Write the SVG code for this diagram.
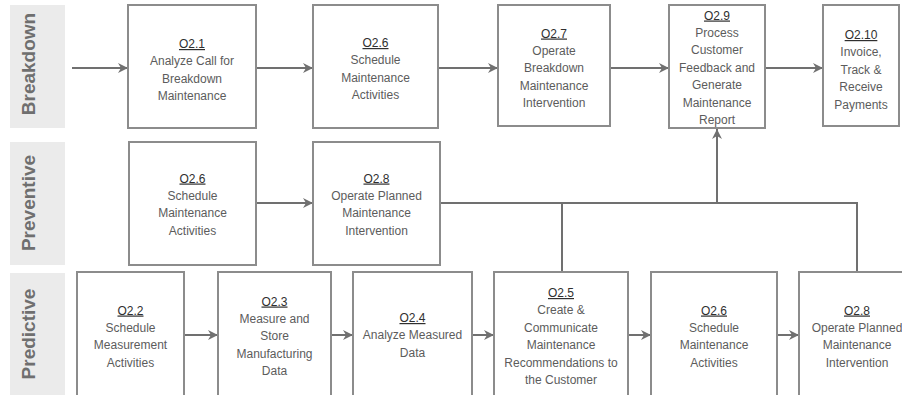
<svg xmlns="http://www.w3.org/2000/svg" width="902" height="395" viewBox="0 0 902 395">
  <style>
    .lane { fill: #ebebeb; }
    .lane-text { font-family: "Liberation Sans", Arial, sans-serif; font-size: 19px; font-weight: bold; fill: #6f6f6f; text-anchor: middle; }
    .box { fill: #ffffff; stroke: #8c8c8c; stroke-width: 2; }
    .t { font-family: "Liberation Sans", Arial, sans-serif; font-size: 12px; fill: #5c5c5c; text-anchor: middle; }
    .id { fill: #2f2f2f; text-decoration: underline; }
    .wire { fill: none; stroke: #707070; stroke-width: 2; }
    .arrow { fill: none; stroke: #707070; stroke-width: 2; marker-end: url(#head); }
  </style>
  <defs>
    <marker id="head" markerUnits="userSpaceOnUse" markerWidth="11" markerHeight="10" refX="10" refY="5" orient="auto">
      <path d="M0,0 L10,5 L0,10 L3,5 z" fill="#707070"/>
    </marker>
  </defs>

  <rect width="902" height="395" fill="#ffffff"/>

  <!-- swimlane labels -->
  <g id="lane-breakdown">
    <rect class="lane" x="10" y="5" width="55" height="123"/>
    <text class="lane-text" transform="translate(35,64) rotate(-90)">Breakdown</text>
  </g>
  <g id="lane-preventive">
    <rect class="lane" x="10" y="142" width="55" height="123"/>
    <text class="lane-text" transform="translate(35,203) rotate(-90)">Preventive</text>
  </g>
  <g id="lane-predictive">
    <rect class="lane" x="10" y="273" width="55" height="130"/>
    <text class="lane-text" transform="translate(35,334) rotate(-90)">Predictive</text>
  </g>

  <!-- connectors -->
  <g id="connectors">
    <line class="arrow" x1="72" y1="68" x2="128" y2="68"/>
    <line class="arrow" x1="256" y1="68" x2="313" y2="68"/>
    <line class="arrow" x1="438" y1="68" x2="498" y2="68"/>
    <line class="arrow" x1="610" y1="68" x2="669" y2="68"/>
    <line class="arrow" x1="765" y1="68" x2="823" y2="68"/>

    <line class="arrow" x1="256" y1="203" x2="313" y2="203"/>
    <polyline class="wire" points="440,203 857,203 857,273"/>
    <line class="wire" x1="562" y1="203" x2="562" y2="273"/>
    <line class="arrow" x1="717" y1="203" x2="717" y2="129"/>

    <line class="arrow" x1="184" y1="335" x2="218" y2="335"/>
    <line class="arrow" x1="331" y1="335" x2="353" y2="335"/>
    <line class="arrow" x1="472" y1="335" x2="494" y2="335"/>
    <line class="arrow" x1="628" y1="335" x2="651" y2="335"/>
    <line class="arrow" x1="777" y1="335" x2="799" y2="335"/>
  </g>

  <!-- breakdown lane -->
  <g id="n-o21">
    <rect class="box" x="128" y="5" width="128" height="123"/>
    <text class="t"><tspan class="id" x="192" y="48">O2.1</tspan><tspan x="192" y="65.4">Analyze Call for</tspan><tspan x="192" y="82.8">Breakdown</tspan><tspan x="192" y="100.2">Maintenance</tspan></text>
  </g>
  <g id="n-o26-breakdown">
    <rect class="box" x="313" y="5" width="125" height="123"/>
    <text class="t"><tspan class="id" x="375.5" y="47">O2.6</tspan><tspan x="375.5" y="64.4">Schedule</tspan><tspan x="375.5" y="81.8">Maintenance</tspan><tspan x="375.5" y="99.2">Activities</tspan></text>
  </g>
  <g id="n-o27">
    <rect class="box" x="498" y="5" width="112" height="121"/>
    <text class="t"><tspan class="id" x="554" y="37.5">O2.7</tspan><tspan x="554" y="54.9">Operate</tspan><tspan x="554" y="72.3">Breakdown</tspan><tspan x="554" y="89.7">Maintenance</tspan><tspan x="554" y="107.1">Intervention</tspan></text>
  </g>
  <g id="n-o29">
    <rect class="box" x="669" y="5" width="96" height="123"/>
    <text class="t"><tspan class="id" x="717" y="19.5">O2.9</tspan><tspan x="717" y="36.9">Process</tspan><tspan x="717" y="54.3">Customer</tspan><tspan x="717" y="71.7">Feedback and</tspan><tspan x="717" y="89.1">Generate</tspan><tspan x="717" y="106.5">Maintenance</tspan><tspan x="717" y="123.9">Report</tspan></text>
  </g>
  <g id="n-o210">
    <rect class="box" x="823" y="5" width="76" height="121"/>
    <text class="t"><tspan class="id" x="861" y="39">O2.10</tspan><tspan x="861" y="56.4">Invoice,</tspan><tspan x="861" y="73.8">Track &amp;</tspan><tspan x="861" y="91.2">Receive</tspan><tspan x="861" y="108.6">Payments</tspan></text>
  </g>

  <!-- preventive lane -->
  <g id="n-o26-preventive">
    <rect class="box" x="129" y="142" width="127" height="123"/>
    <text class="t"><tspan class="id" x="192.5" y="182.5">O2.6</tspan><tspan x="192.5" y="199.9">Schedule</tspan><tspan x="192.5" y="217.3">Maintenance</tspan><tspan x="192.5" y="234.7">Activities</tspan></text>
  </g>
  <g id="n-o28-preventive">
    <rect class="box" x="313" y="142" width="127" height="123"/>
    <text class="t"><tspan class="id" x="376.5" y="182.5">O2.8</tspan><tspan x="376.5" y="199.9">Operate Planned</tspan><tspan x="376.5" y="217.3">Maintenance</tspan><tspan x="376.5" y="234.7">Intervention</tspan></text>
  </g>

  <!-- predictive lane -->
  <g id="n-o22">
    <rect class="box" x="77" y="272" width="107" height="135"/>
    <text class="t"><tspan class="id" x="130.5" y="314.5">O2.2</tspan><tspan x="130.5" y="331.9">Schedule</tspan><tspan x="130.5" y="349.3">Measurement</tspan><tspan x="130.5" y="366.7">Activities</tspan></text>
  </g>
  <g id="n-o23">
    <rect class="box" x="218" y="272" width="113" height="135"/>
    <text class="t"><tspan class="id" x="274.5" y="305.5">O2.3</tspan><tspan x="274.5" y="322.9">Measure and</tspan><tspan x="274.5" y="340.3">Store</tspan><tspan x="274.5" y="357.7">Manufacturing</tspan><tspan x="274.5" y="375.1">Data</tspan></text>
  </g>
  <g id="n-o24">
    <rect class="box" x="353" y="272" width="119" height="135"/>
    <text class="t"><tspan class="id" x="412.5" y="322">O2.4</tspan><tspan x="412.5" y="339.4">Analyze Measured</tspan><tspan x="412.5" y="356.8">Data</tspan></text>
  </g>
  <g id="n-o25">
    <rect class="box" x="494" y="272" width="134" height="135"/>
    <text class="t"><tspan class="id" x="561" y="297">O2.5</tspan><tspan x="561" y="314.4">Create &amp;</tspan><tspan x="561" y="331.8">Communicate</tspan><tspan x="561" y="349.2">Maintenance</tspan><tspan x="561" y="366.6">Recommendations to</tspan><tspan x="561" y="384">the Customer</tspan></text>
  </g>
  <g id="n-o26-predictive">
    <rect class="box" x="651" y="272" width="126" height="135"/>
    <text class="t"><tspan class="id" x="714" y="314.5">O2.6</tspan><tspan x="714" y="331.9">Schedule</tspan><tspan x="714" y="349.3">Maintenance</tspan><tspan x="714" y="366.7">Activities</tspan></text>
  </g>
  <g id="n-o28-predictive">
    <rect class="box" x="799" y="272" width="110" height="135"/>
    <text class="t"><tspan class="id" x="857" y="314.5">O2.8</tspan><tspan x="857" y="331.9">Operate Planned</tspan><tspan x="857" y="349.3">Maintenance</tspan><tspan x="857" y="366.7">Intervention</tspan></text>
  </g>
</svg>
